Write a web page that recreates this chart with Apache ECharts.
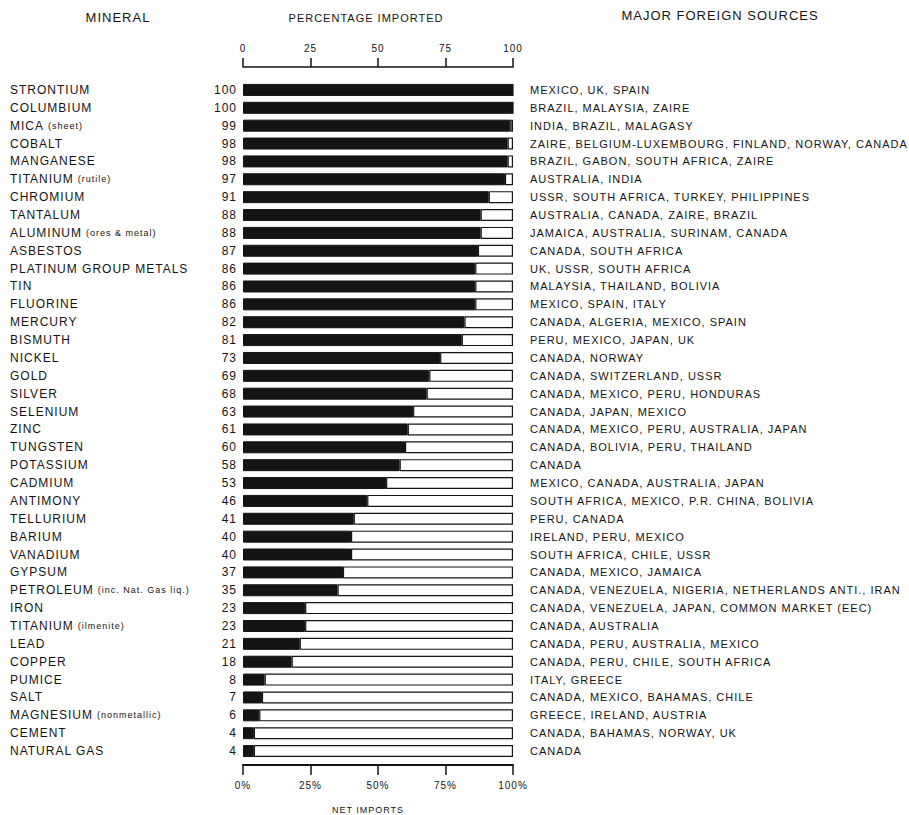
<!DOCTYPE html>
<html><head><meta charset="utf-8">
<script src="https://cdn.jsdelivr.net/npm/echarts@6/dist/echarts.min.js"></script>
<style>
html,body{margin:0;padding:0;background:#fff}
#c{width:909px;height:815px;letter-spacing:1px}
</style></head><body><div id="c"></div>
<script>
const minerals = ['STRONTIUM','COLUMBIUM','MICA (sheet)','COBALT','MANGANESE','TITANIUM (rutile)','CHROMIUM','TANTALUM','ALUMINUM (ores & metal)','ASBESTOS','PLATINUM GROUP METALS','TIN','FLUORINE','MERCURY','BISMUTH','NICKEL','GOLD','SILVER','SELENIUM','ZINC','TUNGSTEN','POTASSIUM','CADMIUM','ANTIMONY','TELLURIUM','BARIUM','VANADIUM','GYPSUM','PETROLEUM (inc. Nat. Gas liq.)','IRON','TITANIUM (ilmenite)','LEAD','COPPER','PUMICE','SALT','MAGNESIUM (nonmetallic)','CEMENT','NATURAL GAS'];
const percentImported = [100,100,99,98,98,97,91,88,88,87,86,86,86,82,81,73,69,68,63,61,60,58,53,46,41,40,40,37,35,23,23,21,18,8,7,6,4,4];
const foreignSources = ['MEXICO, UK, SPAIN','BRAZIL, MALAYSIA, ZAIRE','INDIA, BRAZIL, MALAGASY','ZAIRE, BELGIUM-LUXEMBOURG, FINLAND, NORWAY, CANADA','BRAZIL, GABON, SOUTH AFRICA, ZAIRE','AUSTRALIA, INDIA','USSR, SOUTH AFRICA, TURKEY, PHILIPPINES','AUSTRALIA, CANADA, ZAIRE, BRAZIL','JAMAICA, AUSTRALIA, SURINAM, CANADA','CANADA, SOUTH AFRICA','UK, USSR, SOUTH AFRICA','MALAYSIA, THAILAND, BOLIVIA','MEXICO, SPAIN, ITALY','CANADA, ALGERIA, MEXICO, SPAIN','PERU, MEXICO, JAPAN, UK','CANADA, NORWAY','CANADA, SWITZERLAND, USSR','CANADA, MEXICO, PERU, HONDURAS','CANADA, JAPAN, MEXICO','CANADA, MEXICO, PERU, AUSTRALIA, JAPAN','CANADA, BOLIVIA, PERU, THAILAND','CANADA','MEXICO, CANADA, AUSTRALIA, JAPAN','SOUTH AFRICA, MEXICO, P.R. CHINA, BOLIVIA','PERU, CANADA','IRELAND, PERU, MEXICO','SOUTH AFRICA, CHILE, USSR','CANADA, MEXICO, JAMAICA','CANADA, VENEZUELA, NIGERIA, NETHERLANDS ANTI., IRAN','CANADA, VENEZUELA, JAPAN, COMMON MARKET (EEC)','CANADA, AUSTRALIA','CANADA, PERU, AUSTRALIA, MEXICO','CANADA, PERU, CHILE, SOUTH AFRICA','ITALY, GREECE','CANADA, MEXICO, BAHAMAS, CHILE','GREECE, IRELAND, AUSTRIA','CANADA, BAHAMAS, NORWAY, UK','CANADA'];
const topTickLabels = ['0','25','50','75','100'];
const bottomTickLabels = ['0%','25%','50%','75%','100%'];
const remainder = percentImported.map(v => 100 - v);

const FONT = '"Liberation Sans", Arial, sans-serif';
const INK = '#141414';
const SPACING = 1; // CSS letter-spacing in px (matches #c style)
const chart = echarts.init(document.getElementById('c'), null, {renderer: 'svg'});

// rich styles: one key per label so each head fragment can reserve room for the CSS letter-spacing
const rich = {p: {fontSize: 9, color: INK, fontFamily: FONT}};
minerals.forEach((v, i) => {
  const head = v.indexOf(' (') < 0 ? v : v.slice(0, v.indexOf(' ('));
  rich['n' + i] = {fontSize: 12, color: INK, fontFamily: FONT, padding: [0, head.length * SPACING + 4, 0, 0]};
});
function nameFmt(v, idx) {
  const i = v.indexOf(' (');
  if (i < 0) return '{n' + idx + '|' + v + '}';
  return '{n' + idx + '|' + v.slice(0, i) + '}{p|' + v.slice(i + 1) + '}';
}

chart.setOption({
  animation: false,
  backgroundColor: '#fff',
  textStyle: {fontFamily: FONT, color: INK},
  grid: {left: 243, width: 270, top: 81, height: 679, containLabel: false},
  xAxis: [
    {type: 'value', position: 'top', min: 0, max: 100, interval: 25, offset: 14,
     axisLine: {show: true, lineStyle: {color: INK, width: 1.5}},
     axisTick: {show: true, length: 9, lineStyle: {color: INK, width: 1.5}},
     splitLine: {show: false},
     axisLabel: {margin: 14, fontSize: 10, color: INK, fontFamily: FONT,
       formatter: v => topTickLabels[Math.round(v / 25)]}},
    {type: 'value', position: 'bottom', min: 0, max: 100, interval: 25, offset: 5,
     axisLine: {show: true, lineStyle: {color: INK, width: 2}},
     axisTick: {show: true, length: 10, lineStyle: {color: INK, width: 1.5}},
     splitLine: {show: false},
     axisLabel: {margin: 15, fontSize: 10, color: INK, fontFamily: FONT,
       formatter: v => bottomTickLabels[Math.round(v / 25)]}}
  ],
  yAxis: [
    {type: 'category', inverse: true, data: minerals, position: 'left',
     axisLine: {show: false}, axisTick: {show: false},
     axisLabel: {interval: 0, align: 'left', margin: 233, formatter: nameFmt, rich: rich}},
    {type: 'category', inverse: true, data: percentImported.map(String), position: 'left',
     axisLine: {show: false}, axisTick: {show: false},
     axisLabel: {interval: 0, align: 'right', margin: 6, fontSize: 12, color: INK, fontFamily: FONT}},
    {type: 'category', inverse: true, data: foreignSources, position: 'right',
     axisLine: {show: false}, axisTick: {show: false},
     axisLabel: {interval: 0, align: 'left', margin: 17, fontSize: 11, color: INK, fontFamily: FONT}}
  ],
  series: [
    {type: 'bar', stack: 'p', xAxisIndex: 0, yAxisIndex: 0, barWidth: 12, data: percentImported,
     itemStyle: {color: INK, borderColor: INK, borderWidth: 1}},
    {type: 'bar', stack: 'p', xAxisIndex: 0, yAxisIndex: 0, barWidth: 12, data: remainder,
     itemStyle: {color: '#fff', borderColor: INK, borderWidth: 1.2}}
  ],
  graphic: [
    {type: 'text', x: 118, y: 17, style: {text: 'MINERAL', font: '13px ' + FONT, fill: INK, textAlign: 'center', textVerticalAlign: 'middle'}},
    {type: 'text', x: 366, y: 18, style: {text: 'PERCENTAGE IMPORTED', font: '11px ' + FONT, fill: INK, textAlign: 'center', textVerticalAlign: 'middle'}},
    {type: 'text', x: 720, y: 15, style: {text: 'MAJOR FOREIGN SOURCES', font: '13px ' + FONT, fill: INK, textAlign: 'center', textVerticalAlign: 'middle'}},
    {type: 'text', x: 368, y: 810, style: {text: 'NET IMPORTS', font: '9px ' + FONT, fill: INK, textAlign: 'center', textVerticalAlign: 'middle'}}
  ]
});
</script></body></html>
